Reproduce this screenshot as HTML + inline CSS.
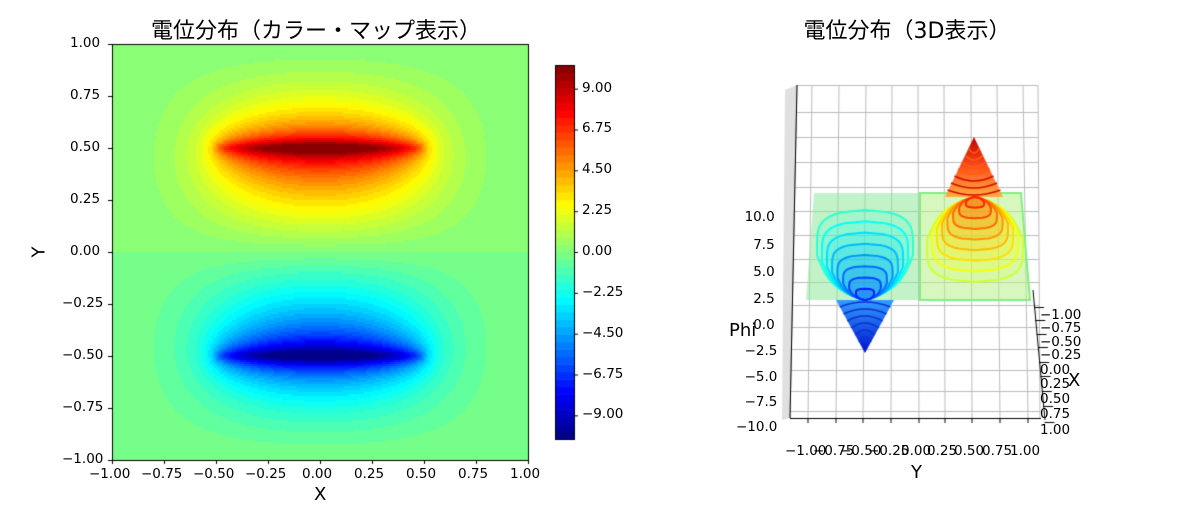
<!DOCTYPE html>
<html><head><meta charset="utf-8">
<style>
body{margin:0;background:#fff;width:1200px;height:500px;overflow:hidden;position:relative;font-family:"DejaVu Sans","Liberation Sans","Noto Sans CJK JP",sans-serif;}
.t{position:absolute;font-size:13.5px;color:#000;white-space:nowrap;line-height:1;}
.title{position:absolute;font-size:22px;font-family:"DejaVu Sans","Noto Sans CJK JP",sans-serif;white-space:nowrap;transform:translateX(-50%);}
canvas,svg{position:absolute;left:0;top:0;}
</style></head><body>
<canvas id="c" width="1200" height="500"></canvas>
<div class="title" style="left:316px;top:13px">電位分布（カラー・マップ表示）</div>
<div class="title" style="left:907px;top:13px">電位分布（3D表示）</div>
<div id="lab"></div>
<script>
var c=document.getElementById('c').getContext('2d');
function jetrgb(t){t=Math.max(0,Math.min(1,t));
 function f(x){return Math.max(0,Math.min(1,x));}
 return [f(Math.min(4*t-1.5,-4*t+4.5)),f(Math.min(4*t-0.5,-4*t+3.5)),f(Math.min(4*t+0.5,-4*t+2.5))];}
function jet(t){var r=jetrgb(t);return 'rgb('+Math.round(r[0]*255)+','+Math.round(r[1]*255)+','+Math.round(r[2]*255)+')';}
function S(x,y){var e=0.0004;return Math.log((x+0.5+Math.sqrt((x+0.5)*(x+0.5)+y*y+e))/(x-0.5+Math.sqrt((x-0.5)*(x-0.5)+y*y+e)));}
function phi(x,y){return (S(x,y-0.5)-S(x,y+0.5))*(1-x*x)*(1-y*y);}
var pm=phi(0,0.5),VM=10.3,NL=50;
var N=208,px=416/N;
for(var i=0;i<N;i++)for(var j=0;j<N;j++){
 var x=-1+(i+0.5)*2/N,y=1-(j+0.5)*2/N;
 var v=phi(x,y)/pm*VM*1.1;
 var k=Math.floor((v+VM)/(2*VM)*NL);k=Math.max(0,Math.min(NL-1,k));
 c.fillStyle=jet((k+0.5)/NL);c.fillRect(112+i*px,44+j*px,px+0.6,px+0.6);}
for(var k=0;k<NL;k++){c.fillStyle=jet((k+0.5)/NL);var h=374/NL;c.fillRect(555,439-(k+1)*h,19,h+0.6);}
c.strokeStyle='#000';c.lineWidth=1;c.strokeRect(112.5,44.5,416,416);c.strokeRect(555.5,65.5,19,374);
var lab='';
function T(x,y,s,st){lab+='<div class="t" style="left:'+x+'px;top:'+y+'px;'+(st||'')+'">'+s+'</div>';}
for(var i=0;i<9;i++){var v=-1+i*0.25,s=(v<0?'−':'')+Math.abs(v).toFixed(2);
 var X=112+(v+1)*208;c.beginPath();c.moveTo(X+0.5,460);c.lineTo(X+0.5,464);c.moveTo(108,460-(v+1)*208+0.5);c.lineTo(112,460-(v+1)*208+0.5);c.stroke();
 T(X-18-(v<0?5:0),468,s);T(v<0?62:70,460-(v+1)*208-7,s);}
for(var i=-4;i<=4;i++){var v=i*2.25,Y=252-v*18.15;c.beginPath();c.moveTo(574,Y+0.5);c.lineTo(578,Y+0.5);c.stroke();
 T(582,Y-7,(v<0?'−':'')+Math.abs(v).toFixed(2));}
lab+='<div class="t" style="left:314px;top:486px;font-size:18px">X</div>';
lab+='<div class="t" style="left:34px;top:243px;font-size:18px;transform:rotate(-90deg)">Y</div>';
// 3D
c.fillStyle='#e0e0e0';c.beginPath();c.moveTo(785,90);c.lineTo(797,85);c.lineTo(790,418);c.lineTo(782,420);c.closePath();c.fill();
c.strokeStyle='#bbb';c.lineWidth=1;
var tops=[797,812,839,866,892,918,944,971,997,1023,1038],bots=[790,808,836,863,891,919,945,972,1000,1028,1040];
for(var i=0;i<tops.length;i++){c.beginPath();c.moveTo(tops[i],85);c.lineTo(bots[i],418);c.stroke();}
var hy=[85,112,137,162,187,211,235,259,282,305,327,349,370,391,411];
for(var i=0;i<hy.length;i++){c.beginPath();c.moveTo(797-i*0.5,hy[i]+0.5);c.lineTo(1038+i*0.2,hy[i]+0.5);c.stroke();}
c.strokeStyle='#000';c.beginPath();c.moveTo(790,418.5);c.lineTo(1041,418.5);c.moveTo(1033,290);c.lineTo(1045,420);c.moveTo(797,85);c.lineTo(790,418);c.stroke();
for(var i=1;i<10;i++){c.beginPath();c.moveTo(bots[i],418);c.lineTo(bots[i],423);c.stroke();}
c.globalAlpha=0.55;c.fillStyle='#8ee89a';c.beginPath();c.moveTo(814,193);c.lineTo(918,193);c.lineTo(918,300);c.lineTo(806,300);c.fill();
c.fillStyle='#b6f08a';c.beginPath();c.moveTo(920,193);c.lineTo(1021,193);c.lineTo(1030,300);c.lineTo(920,300);c.fill();c.globalAlpha=1;
c.strokeStyle='#7ef07e';c.lineWidth=2;c.beginPath();c.moveTo(920,193);c.lineTo(1021,193);c.lineTo(1030,300);c.lineTo(920,300);c.closePath();c.stroke();
function hw(s){return Math.sqrt(Math.max(0,1-Math.pow(Math.abs(2*s-1),5)));}
function loopPath(cx,py,a,h,d){c.beginPath();
 for(var t=0;t<=40;t++){var s=t/40;var x=cx+a*hw(s)*(s<0.5?Math.pow(2*s,0.35):1),y=py-d*h*s;if(t==0)c.moveTo(x,y);else c.lineTo(x,y);}
 for(var t=40;t>=0;t--){var s=t/40;var x=cx-a*hw(s)*(s<0.5?Math.pow(2*s,0.35):1),y=py-d*h*s;c.lineTo(x,y);}c.closePath();}
// blue interior fill
for(var k=8;k>=1;k--){loopPath(865,300,48*Math.pow(k/8,0.8),90*k/8,1);var r=jetrgb(0.42-0.3*(8-k)/8);c.fillStyle='rgba('+Math.round(r[0]*255)+','+Math.round(r[1]*255)+','+Math.round(r[2]*255)+',0.18)';c.fill();}
var g=c.createLinearGradient(0,300,0,353);g.addColorStop(0,'#30a0ff');g.addColorStop(1,'#0010d0');
c.fillStyle=g;c.beginPath();c.moveTo(865,353);c.lineTo(836,300);c.lineTo(894,300);c.closePath();c.fill();
c.lineWidth=2;
for(var k=8;k>=1;k--){loopPath(865,300,48*Math.pow(k/8,0.8),90*k/8,1);c.strokeStyle=jet(0.42-0.3*(8-k)/8);c.stroke();}
for(var k=1;k<7;k++){c.strokeStyle='#1030d0';c.lineWidth=1.5;var y=300+k*7;c.beginPath();c.moveTo(865-(353-y)*0.55,y);c.quadraticCurveTo(865,y-10,865+(353-y)*0.55,y);c.stroke();}
// red
for(var k=8;k>=1;k--){loopPath(975,197,48*Math.pow(k/8,0.8),85*k/8,-1);var r=jetrgb(0.58+0.3*(8-k)/8);c.fillStyle='rgba('+Math.round(r[0]*255)+','+Math.round(r[1]*255)+','+Math.round(r[2]*255)+',0.18)';c.fill();}
var g2=c.createLinearGradient(0,137,0,197);g2.addColorStop(0,'#c00000');g2.addColorStop(0.5,'#ff5020');g2.addColorStop(1,'#ffb040');
c.fillStyle=g2;c.beginPath();c.moveTo(974,137);c.lineTo(1003,197);c.lineTo(945,197);c.closePath();c.fill();
c.lineWidth=2;
for(var k=8;k>=1;k--){loopPath(975,197,48*Math.pow(k/8,0.8),85*k/8,-1);c.strokeStyle=jet(0.58+0.3*(8-k)/8);c.stroke();}
for(var k=1;k<8;k++){c.strokeStyle=k<4?'#d01000':'#ff6000';c.lineWidth=1.5;var y=197-k*7;c.beginPath();c.moveTo(974-(y-137)*0.5,y);c.quadraticCurveTo(974,y+10,974+(y-137)*0.5,y);c.stroke();}
c.strokeStyle='#000';c.lineWidth=1;
var pv=[10,7.5,5,2.5,0,-2.5,-5,-7.5,-10],py=[218,246,273,300,326,352,378,403,428];
for(var i=0;i<9;i++){var s=(pv[i]<0?'−':'')+Math.abs(pv[i]).toFixed(1);T(779-s.length*8.6,py[i]-7,s);}
var xs=['−1.00','−0.75','−0.50','−0.25','0.00','0.25','0.50','0.75','1.00'],xy=[316,329,343,356,371,385,400,415,431];
for(var i=0;i<9;i++){T(1040,xy[i]-7,xs[i]);c.beginPath();c.moveTo(1034+i*1.3,xy[i]-8.5);c.lineTo(1044+i*1.3,xy[i]-8.5);c.stroke();}
for(var i=0;i<9;i++){T(bots[i+1]-(i<4?23:18),445,xs[i]);}
lab+='<div class="t" style="left:911px;top:464px;font-size:18px">Y</div>';
lab+='<div class="t" style="left:1068px;top:372px;font-size:18px">X</div>';
lab+='<div class="t" style="left:729px;top:322px;font-size:18px">Phi</div>';
document.getElementById('lab').innerHTML=lab;
</script>
</body></html>
